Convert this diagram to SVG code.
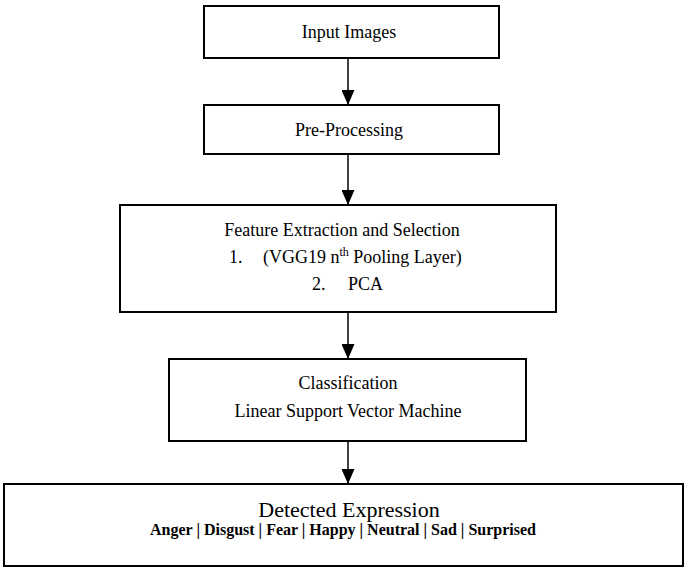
<svg xmlns="http://www.w3.org/2000/svg" width="685" height="567" viewBox="0 0 685 567">
<defs>
<style>
.box{fill:#fff;stroke:#000;stroke-width:2}
.t{font-family:"Liberation Serif","Times New Roman",serif;font-size:18px;fill:#000;text-anchor:middle}
.tl{font-family:"Liberation Serif","Times New Roman",serif;font-size:18px;fill:#000}
.d{font-family:"Liberation Serif","Times New Roman",serif;font-size:22px;fill:#000;text-anchor:middle}
.b{font-family:"Liberation Serif","Times New Roman",serif;font-size:16px;font-weight:bold;fill:#000;text-anchor:middle}
.c{stroke:#000;stroke-width:1.5;fill:none}
</style>
<marker id="ah" markerWidth="15" markerHeight="13" refX="15" refY="6.5" orient="auto" markerUnits="userSpaceOnUse" viewBox="0 0 15 13">
<path d="M0,0 L15,6.5 L0,13 Z" fill="#000"/>
</marker>
</defs>
<rect width="685" height="567" fill="#fff"/>
<g id="connectors">
<line class="c" x1="348" y1="58" x2="348" y2="105" marker-end="url(#ah)"/>
<line class="c" x1="348" y1="154" x2="348" y2="205" marker-end="url(#ah)"/>
<line class="c" x1="348" y1="312" x2="348" y2="359" marker-end="url(#ah)"/>
<line class="c" x1="348" y1="441" x2="348" y2="484" marker-end="url(#ah)"/>
</g>
<g id="input-images">
<rect class="box" x="204" y="6" width="295" height="52"/>
<text class="t" x="349" y="38">Input Images</text>
</g>
<g id="pre-processing">
<rect class="box" x="204" y="105" width="295" height="49"/>
<text class="t" x="349" y="136">Pre-Processing</text>
</g>
<g id="feature-extraction">
<rect class="box" x="120" y="205" width="436" height="107"/>
<text class="t" x="342" y="236">Feature Extraction and Selection</text>
<text class="tl" x="229" y="263">1.</text>
<text class="tl" x="263" y="263">(VGG19 n<tspan dy="-7" font-size="12">th</tspan><tspan dy="7"> Pooling Layer)</tspan></text>
<text class="tl" x="312" y="290">2.</text>
<text class="tl" x="348" y="290">PCA</text>
</g>
<g id="classification">
<rect class="box" x="169" y="359" width="357" height="82"/>
<text class="t" x="348" y="389">Classification</text>
<text class="t" x="348" y="417">Linear Support Vector Machine</text>
</g>
<g id="detected-expression">
<rect class="box" x="4" y="484" width="679" height="82"/>
<text class="d" x="349" y="517">Detected Expression</text>
<text class="b" x="343" y="535">Anger | Disgust | Fear | Happy | Neutral | Sad | Surprised</text>
</g>
</svg>
